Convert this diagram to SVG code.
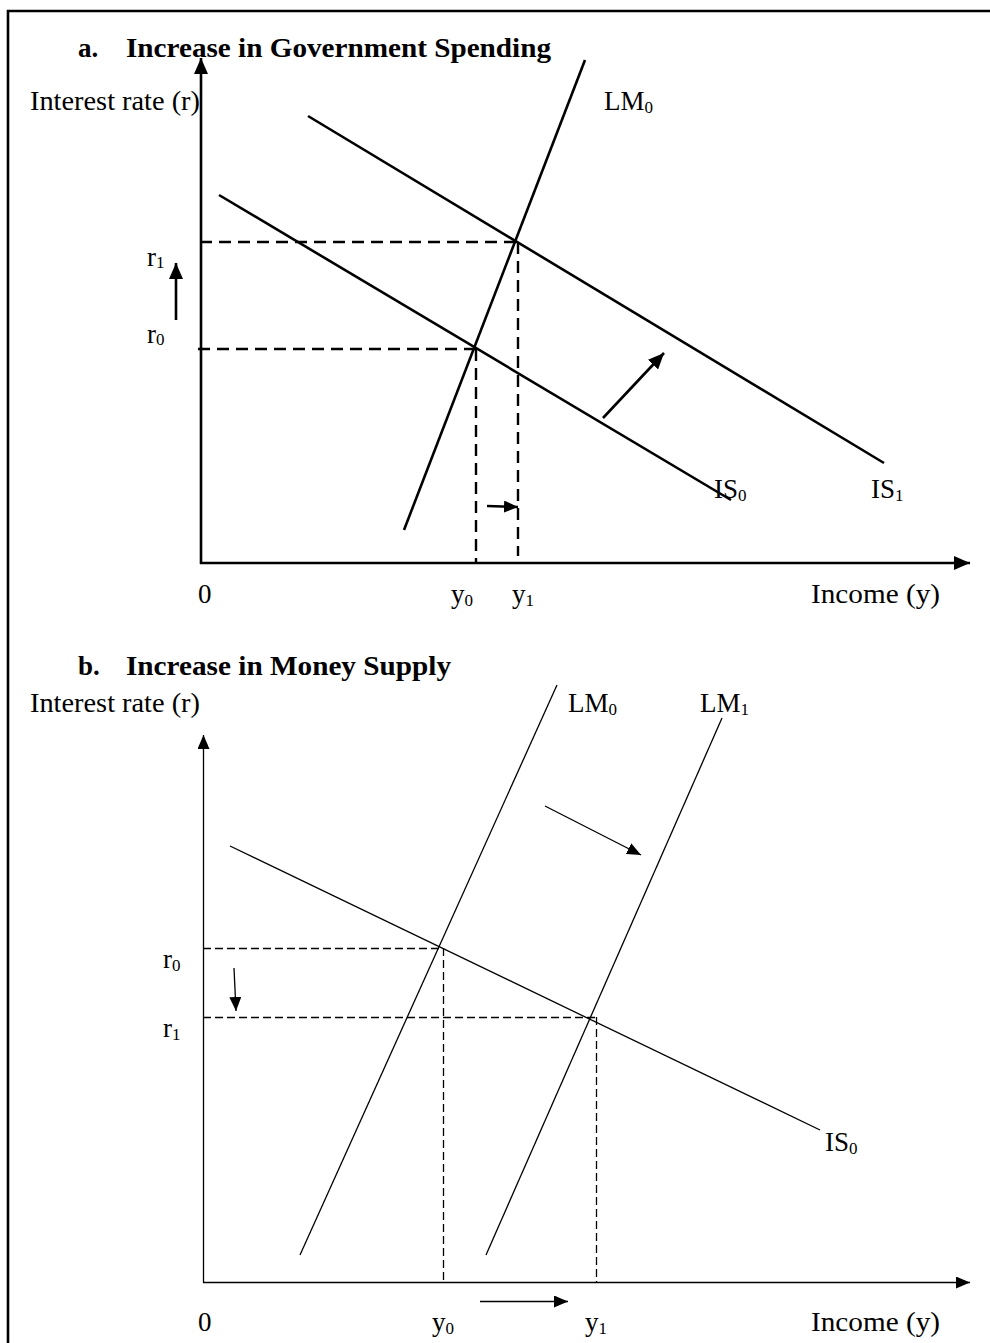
<svg xmlns="http://www.w3.org/2000/svg" width="990" height="1343" viewBox="0 0 990 1343">
<style>
text{font-family:"Liberation Serif","Times New Roman",serif;fill:#000}
.lbl{font-size:27px}
.ttl{font-size:27px;font-weight:bold}
.sub{font-size:17px}
.thick{stroke:#000;stroke-width:2.6;fill:none}
.thin{stroke:#000;stroke-width:1.3;fill:none}
.dashA{stroke:#000;stroke-width:2.4;fill:none;stroke-dasharray:12 7}
.dashB{stroke:#000;stroke-width:1.3;fill:none;stroke-dasharray:8 4}
</style>
<defs>
<marker id="ahA" markerUnits="userSpaceOnUse" markerWidth="16" markerHeight="14" refX="16" refY="7" orient="auto"><path d="M0,0 L16,7 L0,14 z" fill="#000"/></marker>
<marker id="ahS" markerUnits="userSpaceOnUse" markerWidth="14" markerHeight="12" refX="14" refY="6" orient="auto"><path d="M0,0 L14,6 L0,12 z" fill="#000"/></marker>
<marker id="ahB" markerUnits="userSpaceOnUse" markerWidth="14" markerHeight="12" refX="14" refY="6" orient="auto"><path d="M0,0 L14,6 L0,12 z" fill="#000"/></marker>
</defs>
<rect width="990" height="1343" fill="#fff"/>
<path d="M8,1343 V11 H990" stroke="#000" stroke-width="2.6" fill="none"/>

<g id="panel-a">
<text class="ttl" x="78" y="57">a.</text>
<text class="ttl" x="126" y="57" textLength="425" lengthAdjust="spacingAndGlyphs">Increase in Government Spending</text>
<text class="lbl" x="30" y="110" textLength="170" lengthAdjust="spacingAndGlyphs">Interest rate (r)</text>
</g>

<g id="connectors-a">
<line class="thick" x1="201" y1="564" x2="201" y2="58" marker-end="url(#ahA)"/>
<line class="thick" x1="200" y1="563" x2="970" y2="563" marker-end="url(#ahA)"/>
<line class="thick" x1="404" y1="530" x2="585" y2="60"/>
<line class="thick" x1="219" y1="195" x2="731" y2="500"/>
<line class="thick" x1="308" y1="116" x2="884" y2="463"/>
<line class="dashA" x1="200" y1="242" x2="517" y2="242"/>
<line class="dashA" x1="198" y1="349" x2="476" y2="349"/>
<line class="dashA" x1="476" y1="349" x2="476" y2="563"/>
<line class="dashA" x1="518" y1="242" x2="518" y2="556"/>
<line class="thick" x1="176" y1="320" x2="176" y2="263" marker-end="url(#ahA)"/>
<line class="thick" x1="487" y1="506" x2="518" y2="507" marker-end="url(#ahS)"/>
<line class="thick" x1="603" y1="418" x2="664" y2="353" marker-end="url(#ahA)"/>
</g>

<g id="labels-a">
<text class="lbl" x="604" y="110">LM<tspan class="sub" dy="3">0</tspan></text>
<text class="lbl" x="147" y="266">r<tspan class="sub" dy="2">1</tspan></text>
<text class="lbl" x="147" y="343">r<tspan class="sub" dy="2">0</tspan></text>
<text class="lbl" x="714" y="498">IS<tspan class="sub" dy="3">0</tspan></text>
<text class="lbl" x="871" y="498">IS<tspan class="sub" dy="3">1</tspan></text>
<text class="lbl" x="198" y="603">0</text>
<text class="lbl" x="451" y="603">y<tspan class="sub" dy="3">0</tspan></text>
<text class="lbl" x="512" y="603">y<tspan class="sub" dy="3">1</tspan></text>
<text class="lbl" x="811" y="603" textLength="129" lengthAdjust="spacingAndGlyphs">Income (y)</text>
</g>

<g id="panel-b">
<text class="ttl" x="78" y="675">b.</text>
<text class="ttl" x="126" y="675" textLength="325" lengthAdjust="spacingAndGlyphs">Increase in Money Supply</text>
<text class="lbl" x="30" y="712" textLength="170" lengthAdjust="spacingAndGlyphs">Interest rate (r)</text>
</g>

<g id="connectors-b">
<line class="thin" x1="203.5" y1="1283" x2="203.5" y2="735" marker-end="url(#ahB)"/>
<line class="thin" x1="203" y1="1282.5" x2="970" y2="1282.5" marker-end="url(#ahB)"/>
<line class="thin" x1="300" y1="1255" x2="557" y2="685"/>
<line class="thin" x1="486" y1="1255" x2="722" y2="718"/>
<line class="thin" x1="230" y1="846" x2="820" y2="1130"/>
<line class="dashB" x1="203" y1="948.5" x2="443" y2="948.5"/>
<line class="dashB" x1="443.5" y1="948" x2="443.5" y2="1282"/>
<line class="dashB" x1="203" y1="1017.5" x2="596" y2="1017.5"/>
<line class="dashB" x1="596.5" y1="1017" x2="596.5" y2="1282"/>
<line class="thin" x1="234" y1="968" x2="236" y2="1011" marker-end="url(#ahB)"/>
<line class="thin" x1="545" y1="806" x2="641" y2="855" marker-end="url(#ahB)"/>
<line class="thin" x1="480" y1="1301.5" x2="568" y2="1301.5" marker-end="url(#ahB)"/>
</g>

<g id="labels-b">
<text class="lbl" x="568" y="712">LM<tspan class="sub" dy="3">0</tspan></text>
<text class="lbl" x="700" y="712">LM<tspan class="sub" dy="3">1</tspan></text>
<text class="lbl" x="163" y="968">r<tspan class="sub" dy="3">0</tspan></text>
<text class="lbl" x="163" y="1037">r<tspan class="sub" dy="3">1</tspan></text>
<text class="lbl" x="825" y="1151">IS<tspan class="sub" dy="3">0</tspan></text>
<text class="lbl" x="198" y="1331">0</text>
<text class="lbl" x="432" y="1331">y<tspan class="sub" dy="3">0</tspan></text>
<text class="lbl" x="585" y="1331">y<tspan class="sub" dy="3">1</tspan></text>
<text class="lbl" x="811" y="1331" textLength="129" lengthAdjust="spacingAndGlyphs">Income (y)</text>
</g>
</svg>
